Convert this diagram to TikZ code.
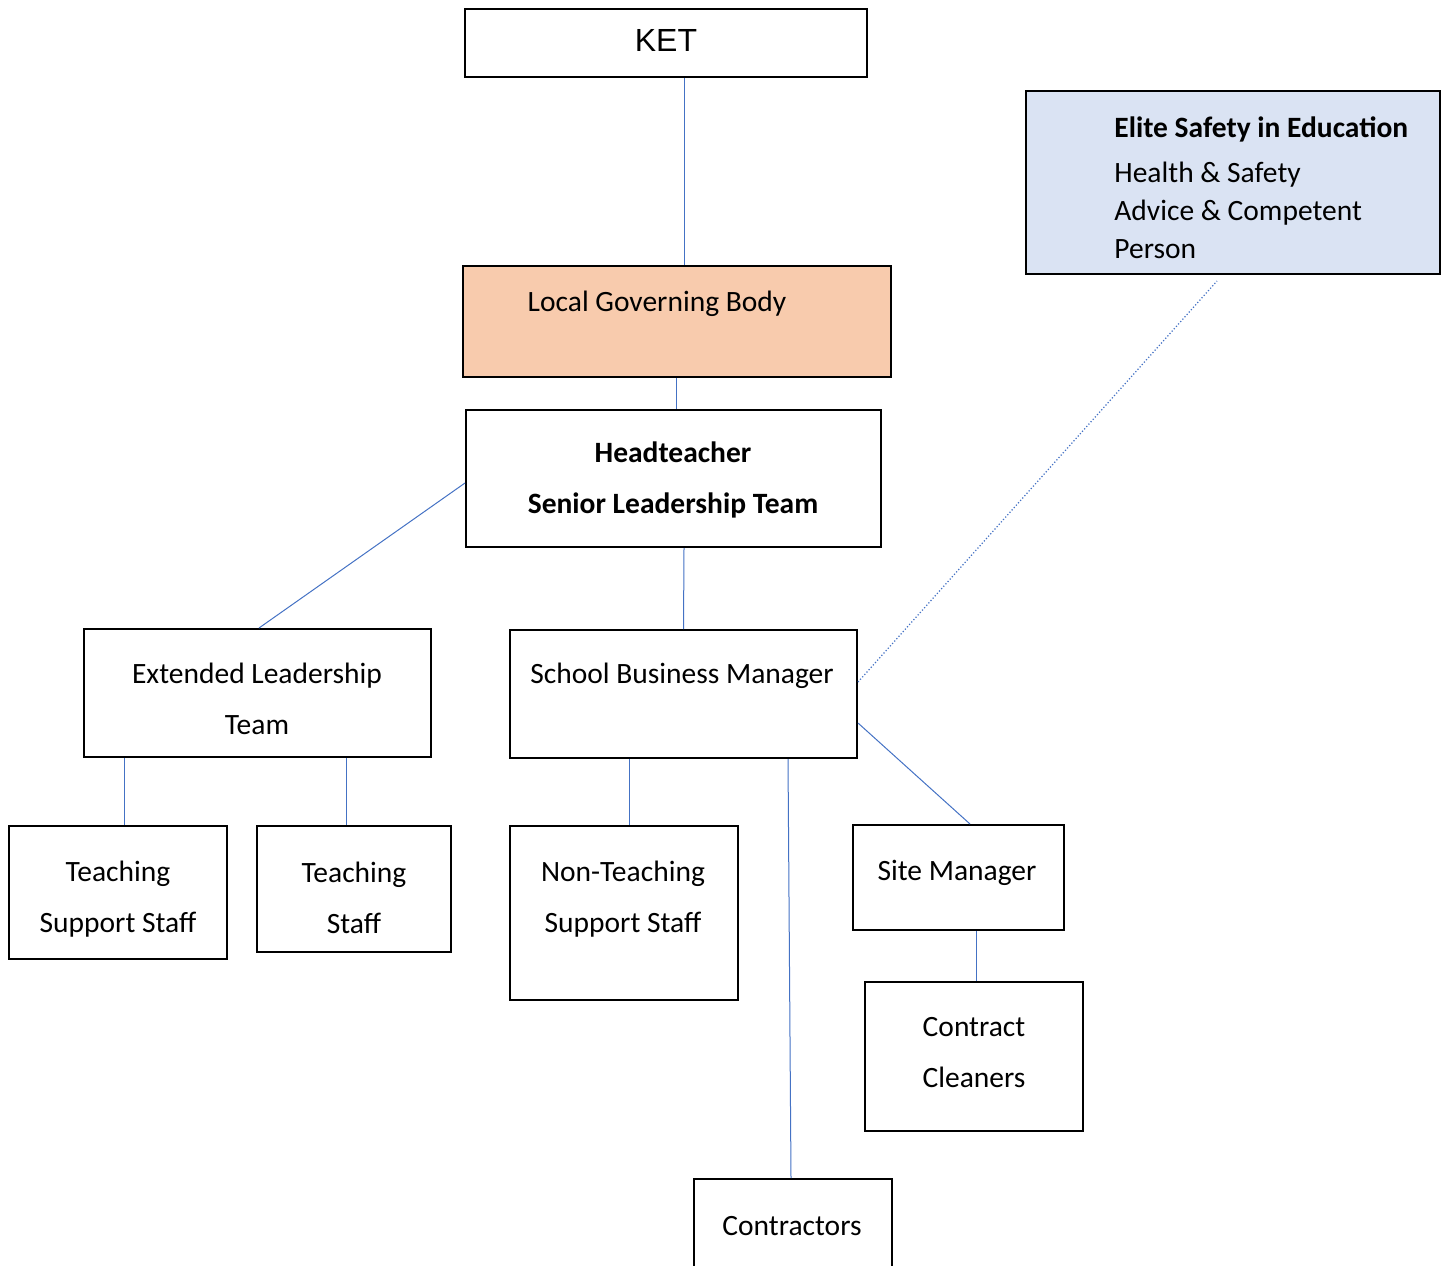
\documentclass[tikz,border=0pt]{standalone}
\usepackage{fontspec}
\setmainfont{Carlito}
\newfontfamily\ketfont{Liberation Sans}
\definecolor{linkblue}{HTML}{4472C4}
\definecolor{peach}{HTML}{F8CBAD}
\definecolor{paleblue}{HTML}{DAE3F3}
\tikzstyle{unit} = [draw=black,line width=1pt,inner sep=0pt]
\tikzstyle{boxtext} = [align=center,inner sep=0pt,font=\fontsize{14.75}{25.5}\selectfont]
\tikzstyle{link} = [draw,linkblue,line width=0.5pt]
\tikzstyle{advice link} = [draw,linkblue,line width=0.6pt,dash pattern=on 0.6pt off 1pt]

\begin{document}
\begin{tikzpicture}[x=0.5pt,y=-0.5pt]
	\useasboundingbox (0,0) rectangle (1444,1265);
	% First we draw the boxes
	\foreach \name/\x/\y/\w/\h/\col in {ket/666/43/201/34/white, lgb/677/321.5/214/55.5/peach,
							head/673.5/478.5/207.5/68.5/white, ese/1233/182.5/207/91.5/paleblue,
							elt/257.5/693/173.5/64/white, sbm/683.5/694/173.5/64/white,
							tss/118/892.5/109/66.5/white, ts/354/889/97/63/white,
							ntss/624/913/114/87/white, sm/958.5/877.5/105.5/52.5/white,
							cc/974/1056.5/109/74.5/white, con/793/1239.5/99/60.5/white}
	\node[unit, fill=\col, minimum width=\w pt, minimum height=\h pt] (\name) at (\x,\y) {};

	% Then the texts
	\node[inner sep=0pt, font=\ketfont\fontsize{16}{19}\selectfont] (ketT) at (666,40) {KET};
	\node[boxtext, font=\fontsize{14.75}{25.5}\selectfont\bfseries] (headT) at (673,480) {Headteacher\\Senior Leadership Team};
	\foreach \pos/\name/\text in {{(657,304)/lgbT/Local Governing Body}, {(257,699)/eltT/{Extended Leadership\\Team}},
							{(682,676)/sbmT/School Business Manager}, {(118,899)/tssT/{Teaching\\Support Staff}},
							{(354,898)/tsT/{Teaching\\Staff}}, {(623,899)/ntssT/{Non-Teaching\\Support Staff}},
							{(957,873)/smT/Site Manager}, {(974,1053)/ccT/{Contract\\Cleaners}},
							{(792,1226)/conT/Contractors}}
	\node[boxtext] (\name) at \pos {\text};
	\node[anchor=north west, align=left, inner sep=0pt, font=\fontsize{14.75}{19}\selectfont] (eseT) at (1114,116)
		{\textbf{Elite Safety in Education}\\[3.5pt]Health \& Safety\\Advice \& Competent\\Person};

	% Connect the boxes
	\path[link] ([xshift=9pt]ket.south) -- ([xshift=3.5pt]lgb.north);
	\path[link] ([xshift=-0.5pt]lgb.south) -- ([xshift=1.25pt]head.north);
	\path[link] ([yshift=-2.25pt]head.west) -- ([xshift=0.75pt]elt.north);
	\path[link] ([xshift=5.25pt]head.south) -- (sbm.north);
	\path[link] ([xshift=-66.75pt]elt.south) -- ([xshift=3pt]tss.north);
	\path[link] ([xshift=44.25pt]elt.south) -- ([xshift=-4pt]ts.north);
	\path[link] ([xshift=-27.25pt]sbm.south) -- ([xshift=2.5pt]ntss.north);
	\path[link] ([xshift=52.25pt]sbm.south) -- ([xshift=-1pt]con.north);
	\path[link] ([yshift=-14.5pt]sbm.east) -- ([xshift=5.75pt]sm.north);
	\path[link] ([xshift=8.75pt]sm.south) -- ([xshift=1pt]cc.north);
	\path[advice link] ([yshift=6pt]sbm.east) -- ([xshift=-8pt,yshift=-3pt]ese.south);
\end{tikzpicture}
\end{document}
